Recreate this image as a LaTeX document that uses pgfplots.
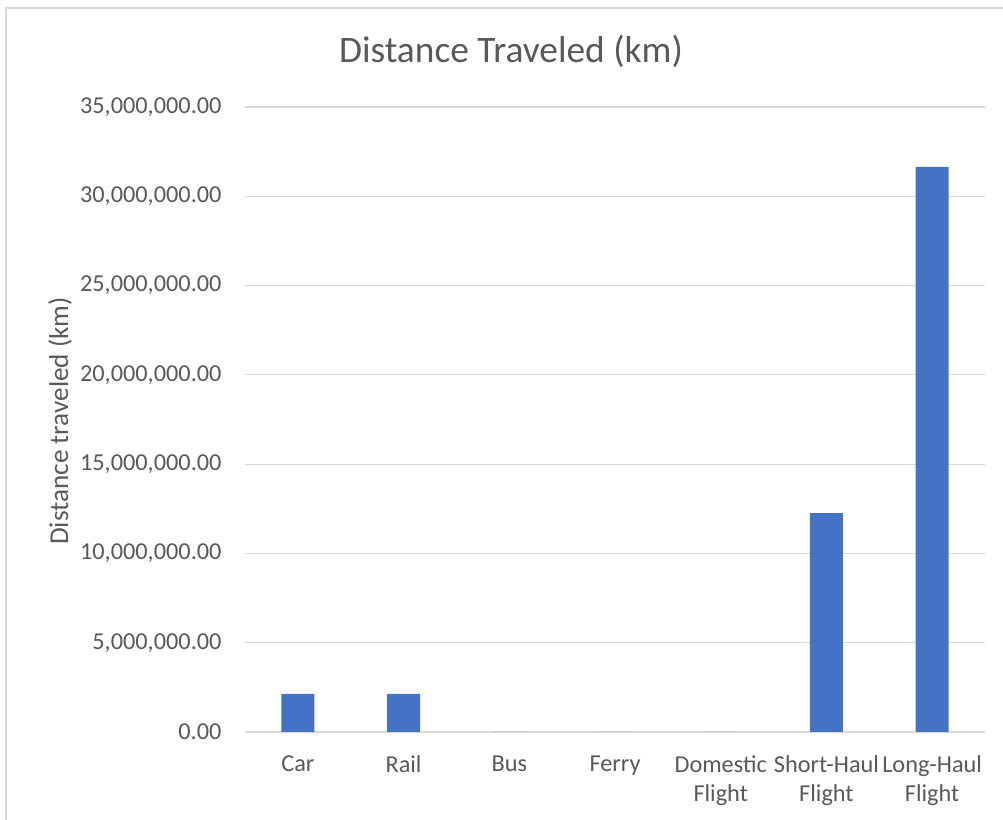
\documentclass[border=0pt]{standalone}
\usepackage{pgfplots}
\pgfplotsset{compat=1.18}
\usepackage{fontspec}
\setmainfont{Carlito}
\definecolor{barblue}{HTML}{4472C4}
\definecolor{gridgray}{HTML}{D9D9D9}
\definecolor{txtgray}{HTML}{595959}
\definecolor{bordergray}{HTML}{D9D9D9}
\begin{document}
\begin{tikzpicture}[x=1bp,y=1bp]
\path[use as bounding box] (0,0) rectangle (1003,820);
\draw[bordergray, line width=1.2bp] (6,-5) -- (6,812) -- (1010,812);
\begin{axis}[
  at={(245bp,88bp)}, anchor=south west,
  scale only axis, width=740bp, height=625bp,
  ybar, bar width=33bp,
  xmin=-0.5, xmax=6.5, ymin=0, ymax=35000000,
  xtick={0,1,2,3,4,5,6},
  xticklabels={Car, Rail, Bus, Ferry, {Domestic\\Flight}, {Short-Haul\\Flight}, {Long-Haul\\Flight}},
  ytick={0,5000000,10000000,15000000,20000000,25000000,30000000,35000000},
  scaled y ticks=false,
  yticklabel style={/pgf/number format/fixed, /pgf/number format/fixed zerofill, /pgf/number format/precision=2, /pgf/number format/1000 sep={,}, /pgf/number format/assume math mode=true, xshift=-20bp},
  ticklabel style={font=\fontsize{24.3bp}{29bp}\selectfont, text=txtgray},
  x tick label style={align=center, yshift=-20bp},
  major tick length=0pt,
  axis line style={draw=none},
  ymajorgrids, grid style={gridgray, line width=1.2bp},
]
\addplot[fill=barblue, draw=none] coordinates {
 (0,2130000) (1,2130000) (2,0) (3,0) (4,0) (5,12250000) (6,31640000)};
\end{axis}
\node[anchor=base, text=txtgray, font=\fontsize{37.4bp}{44bp}\selectfont] at (511,757) {Distance Traveled (km)};
\node[rotate=90, text=txtgray, font=\fontsize{27.2bp}{32bp}\selectfont] at (60,399) {Distance traveled (km)};
\end{tikzpicture}
\end{document}
